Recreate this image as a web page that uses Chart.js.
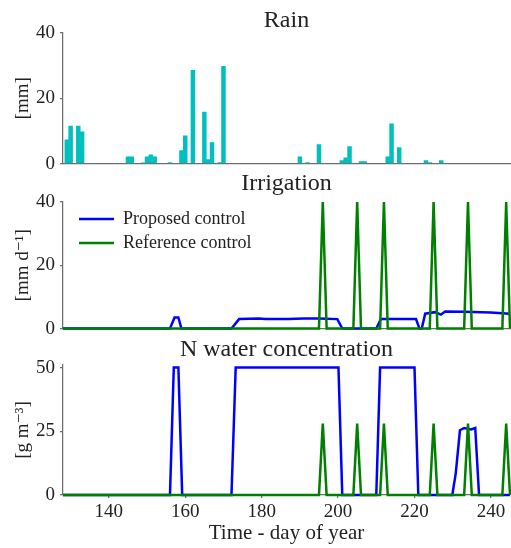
<!DOCTYPE html>
<html lang="en">
<head>
<meta charset="UTF-8" />
<title>Rain, irrigation and N water concentration</title>
<script src="https://cdn.jsdelivr.net/npm/chart.js"></script>
<style>
  html, body { margin: 0; padding: 0; background: #fff; }
  #wrap { position: relative; width: 511px; height: 548px; overflow: hidden; }
  canvas { position: absolute; left: 0; }
</style>
</head>
<body>
<div id="wrap">
  <canvas id="rainChart" width="511" height="180" style="top:0px"></canvas>
  <canvas id="irrChart" width="511" height="175" style="top:170px"></canvas>
  <canvas id="nChart" width="511" height="218" style="top:330px"></canvas>
</div>

<script>
  // x axis (day of year)
  const xMin = 128;
  const xMax = 245;
  const xTicks = [140, 160, 180, 200, 220, 240];

  // Rain [mm]
  const rainDays = [129, 130, 132, 133, 145, 146, 149, 150, 151, 152, 156, 159, 160, 162, 165, 166, 167, 169, 170,
                    190, 192, 195, 201, 202, 203, 206, 207, 213, 214, 216, 223, 224, 227];
  const rainMm   = [7.3, 11.5, 11.5, 9.7, 2.1, 2.1, 0.2, 2.1, 2.7, 2.1, 0.3, 4.0, 8.5, 28.6, 15.8, 1.2, 6.4, 0.3, 29.8,
                    2.1, 0.3, 5.8, 0.9, 1.8, 5.2, 0.6, 0.6, 2.1, 12.2, 4.9, 0.9, 0.3, 0.9];
  const rainTicks = [0, 20, 40];

  // Irrigation [mm d-1], proposed control
  const propIrrDays = [128, 156.0, 157.2, 158.2, 159.0, 172.1, 174.1, 179.3, 181, 187, 191, 195, 199.8, 201.1,
                       210.0, 211.2, 220.4, 221.3, 221.9, 222.8, 225.4, 226.9, 228.0, 232.9, 239.9, 245];
  const propIrr     = [0, 0, 3.5, 3.5, 0, 0, 3.0, 3.2, 3.0, 3.0, 3.2, 3.2, 3.0, 0,
                       0, 3.0, 3.0, 0, 0, 4.7, 5.2, 4.4, 5.4, 5.3, 5.1, 4.7];
  // Irrigation, reference control
  const refDays = [128, 195, 196, 197, 204, 205, 206, 211, 212, 213, 224, 225, 226, 233, 234, 235, 243, 244, 245];
  const refIrr  = [0, 0, 40, 0, 0, 40, 0, 0, 40, 0, 0, 40, 0, 0, 40, 0, 0, 40, 0];
  const irrTicks = [0, 20, 40];

  // N water concentration [g m-3]
  const propNDays = [128, 156, 157, 158.2, 159.2, 172.1, 173.2, 200.1, 201.1, 210.0, 211.0, 220.0, 221.0,
                     229.9, 230.8, 231.9, 233.0, 234.8, 235.9, 236.9, 245];
  const propN     = [0, 0, 50, 50, 0, 0, 50, 50, 0, 0, 50, 50, 0,
                     0, 8.5, 25.4, 26.3, 25.7, 26.3, 0, 0];
  const refN      = [0, 0, 28, 0, 0, 28, 0, 0, 28, 0, 0, 28, 0, 0, 28, 0, 0, 28, 0];
  const nTicks = [0, 25, 50];

  const serif = "'Liberation Serif', 'DejaVu Serif', serif";
  const textCol = '#222222';
  const spine = '#6e6e6e';

  function pts(xs, ys) {
    return xs.map((x, i) => ({ x: x, y: ys[i] }));
  }

  function xAxis(showLabels, height) {
    return {
      type: 'linear',
      min: xMin,
      max: xMax,
      offset: false,
      afterBuildTicks: s => { s.ticks = xTicks.map(v => ({ value: v })); },
      afterFit: s => { s.height = height; },
      grid: showLabels
        ? { drawOnChartArea: false, tickLength: 3, color: spine, lineWidth: 1.25 }
        : { display: false },
      border: { color: spine, width: 1.25 },
      ticks: { display: showLabels, padding: 3, color: textCol, font: { family: serif, size: 19 } },
      title: {
        display: showLabels,
        text: 'Time - day of year',
        color: textCol,
        font: { family: serif, size: 21, lineHeight: 1 },
        padding: { top: 0, bottom: 4 }
      }
    };
  }

  function yAxis(ticks, max, label) {
    return {
      min: 0,
      max: max,
      afterBuildTicks: s => { s.ticks = ticks.map(v => ({ value: v })); },
      afterFit: s => { s.width = 63; },
      grid: { drawOnChartArea: false, tickLength: 3, color: spine, lineWidth: 1.25 },
      border: { color: spine, width: 1.25 },
      ticks: { padding: 5, color: textCol, font: { family: serif, size: 19 } },
      title: {
        display: true,
        text: label,
        color: textCol,
        font: { family: serif, size: 19, lineHeight: 1 },
        padding: { top: 14, bottom: 0 }
      }
    };
  }

  function title(text, top, bottom) {
    return {
      display: true,
      text: text,
      fullSize: false,
      color: textCol,
      font: { family: serif, size: 24, weight: 'normal', lineHeight: 1 },
      padding: { top: top, bottom: bottom }
    };
  }

  // puts the legend in the upper left corner of the axes
  const nudgeLegend = {
    id: 'nudgeLegend',
    afterLayout(chart) {
      const lg = chart.legend;
      if (lg && lg.options.display) {
        lg.left = chart.chartArea.left + 10;
        lg.top = chart.chartArea.top + 2;
        lg.bottom = lg.top + lg.height;
        lg.right = lg.left + lg.width;
      }
    }
  };

  Chart.defaults.animation = false;

  new Chart(document.getElementById('rainChart'), {
    type: 'bar',
    data: {
      datasets: [{
        label: 'Rain',
        data: pts(rainDays, rainMm),
        backgroundColor: '#00bfbf',
        borderWidth: 0,
        barPercentage: 1,
        categoryPercentage: 1
      }]
    },
    options: {
      responsive: false,
      layout: { padding: { left: 0, right: 1, top: 0, bottom: 0 } },
      plugins: { legend: { display: false }, tooltip: { enabled: false }, title: title('Rain', 9, 0) },
      scales: { x: xAxis(false, 15), y: yAxis(rainTicks, 40, '[mm]') }
    }
  });

  new Chart(document.getElementById('irrChart'), {
    type: 'line',
    data: {
      datasets: [
        { label: 'Proposed control', data: pts(propIrrDays, propIrr), borderColor: '#0000ff', borderWidth: 2.5,
          pointRadius: 0, tension: 0, fill: false, order: 1, clip: false },
        { label: 'Reference control', data: pts(refDays, refIrr), borderColor: '#008000', borderWidth: 2.5,
          pointRadius: 0, tension: 0, fill: false, order: 0, clip: false }
      ]
    },
    options: {
      responsive: false,
      layout: { padding: { left: 0, right: 1, top: 0, bottom: 0 } },
      plugins: {
        tooltip: { enabled: false },
        title: title('Irrigation', 2, 6),
        legend: {
          position: 'chartArea',
          align: 'start',
          labels: {
            usePointStyle: true,
            pointStyle: 'line',
            pointStyleWidth: 35,
            padding: 6,
            color: textCol,
            font: { family: serif, size: 18 },
            sort: (a, b) => a.datasetIndex - b.datasetIndex
          }
        }
      },
      scales: { x: xAxis(false, 15), y: yAxis(irrTicks, 40, '[mm d⁻¹]') }
    },
    plugins: [nudgeLegend]
  });

  new Chart(document.getElementById('nChart'), {
    type: 'line',
    data: {
      datasets: [
        { label: 'Proposed control', data: pts(propNDays, propN), borderColor: '#0000ff', borderWidth: 2.5,
          pointRadius: 0, tension: 0, fill: false, order: 1, clip: false },
        { label: 'Reference control', data: pts(refDays, refN), borderColor: '#008000', borderWidth: 2.5,
          pointRadius: 0, tension: 0, fill: false, order: 0, clip: false }
      ]
    },
    options: {
      responsive: false,
      layout: { padding: { left: 0, right: 1, top: 0, bottom: 0 } },
      plugins: {
        legend: { display: false },
        tooltip: { enabled: false },
        title: title('N water concentration', 8, 3)
      },
      scales: { x: xAxis(true, 53), y: yAxis(nTicks, 51, '[g m⁻³]') }
    }
  });
</script>
</body>
</html>
